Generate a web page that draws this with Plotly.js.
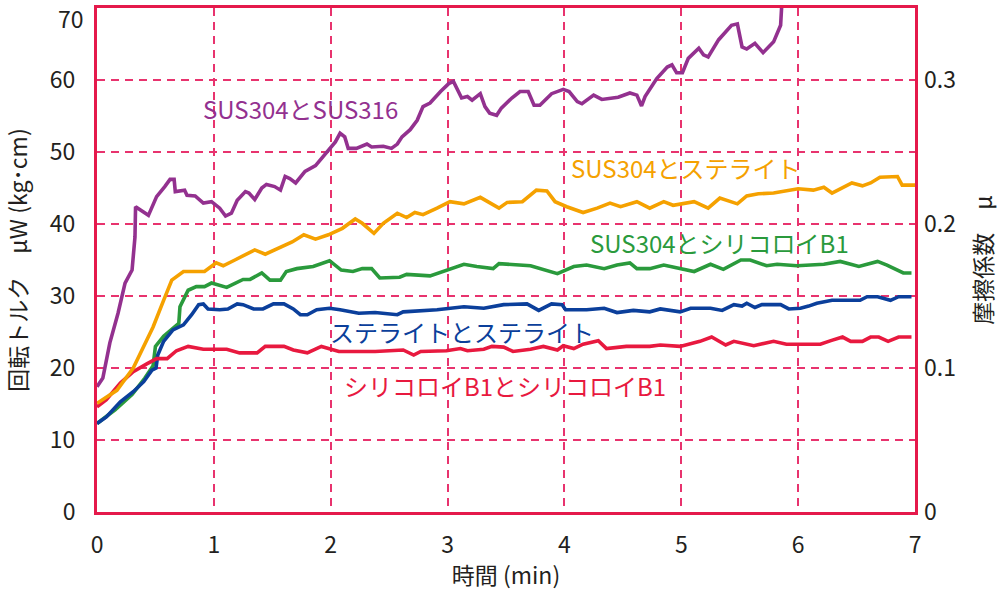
<!DOCTYPE html>
<html>
<head>
<meta charset="utf-8">
<script src="https://cdn.plot.ly/plotly-3.0.1.min.js"></script>
<style>html,body{margin:0;padding:0;background:#fff;}#chart{width:1002px;height:591px;}</style>
</head>
<body>
<div id="chart"></div>
<script>
// time (min) and torque values
const tSUS316 = [0,0.05,0.11,0.18,0.24,0.30,0.325,0.33,0.44,0.51,0.58,0.625,0.66,0.67,0.75,0.77,0.84,0.91,0.98,1.05,1.10,1.15,1.20,1.27,1.30,1.35,1.41,1.45,1.52,1.57,1.61,1.65,1.70,1.78,1.87,1.95,2.04,2.08,2.12,2.15,2.22,2.31,2.35,2.45,2.52,2.57,2.61,2.68,2.74,2.79,2.85,2.94,3.01,3.05,3.12,3.17,3.21,3.28,3.32,3.36,3.42,3.46,3.55,3.62,3.69,3.74,3.79,3.89,3.99,4.04,4.11,4.15,4.25,4.32,4.46,4.56,4.62,4.66,4.69,4.79,4.88,4.92,4.96,5.01,5.06,5.15,5.19,5.23,5.32,5.43,5.48,5.52,5.56,5.63,5.70,5.79,5.82,5.85,5.86];
const vSUS316 = [17.4,18.6,23.5,27.6,31.8,33.6,38.2,42.4,41.2,43.8,45.2,46.2,46.2,44.5,44.7,44.0,43.9,42.9,43.1,42.2,41.1,41.5,43.3,44.5,44.3,43.4,45.0,45.5,45.2,44.7,46.6,46.3,45.7,47.3,48.1,49.6,51.4,52.6,52.1,50.5,50.5,51.1,50.7,50.8,50.5,51.1,52.1,53.1,54.4,56.3,56.8,58.4,59.5,59.8,57.5,57.7,57.2,58.1,56.3,55.4,55.1,56.1,57.5,58.4,58.4,56.5,56.5,58.1,58.7,58.4,57.0,56.7,57.9,57.3,57.6,58.2,57.9,56.4,57.7,60.2,61.8,62.1,61.0,61.0,63.0,64.4,63.5,63.2,65.6,67.6,67.8,64.6,64.3,65.1,63.8,65.3,66.6,67.6,70.5];

const tStellite = [0,0.17,0.31,0.40,0.48,0.57,0.64,0.74,0.92,1.02,1.08,1.18,1.35,1.44,1.58,1.67,1.77,1.87,1.98,2.10,2.21,2.27,2.37,2.45,2.57,2.65,2.72,2.79,2.91,3.02,3.14,3.28,3.44,3.51,3.64,3.76,3.85,3.92,4.02,4.16,4.28,4.39,4.48,4.62,4.73,4.85,4.93,5.11,5.23,5.33,5.48,5.56,5.66,5.79,6.00,6.13,6.22,6.29,6.46,6.55,6.62,6.70,6.85,6.89,7.0];
const vStellite = [15.1,16.9,20.0,23.0,25.7,29.4,32.2,33.4,33.4,34.6,34.2,35.0,36.4,35.8,36.9,37.5,38.5,37.9,38.5,39.4,40.7,40.1,38.7,40.1,41.5,40.9,41.6,41.3,42.2,43.1,42.8,43.7,42.2,43.0,43.1,44.7,44.6,43.1,42.4,41.6,42.2,42.9,42.4,43.1,42.2,43.1,42.6,43.1,42.2,43.6,42.8,43.9,44.2,44.3,44.9,44.7,45.1,44.3,45.7,45.3,45.7,46.5,46.6,45.4,45.4];

const tSiliB1 = [0,0.155,0.30,0.41,0.48,0.50,0.57,0.70,0.71,0.78,0.85,0.92,0.98,1.11,1.25,1.31,1.41,1.48,1.57,1.62,1.71,1.85,1.99,2.09,2.19,2.27,2.35,2.42,2.59,2.65,2.85,3.02,3.14,3.25,3.39,3.44,3.59,3.71,3.94,4.08,4.19,4.34,4.45,4.56,4.62,4.73,4.85,4.99,5.11,5.25,5.36,5.51,5.59,5.73,5.82,5.99,6.22,6.36,6.52,6.68,6.76,6.90,6.97];
const vSiliB1 = [12.3,14.2,16.3,18.6,20.3,23.0,24.4,26.2,28.5,30.8,31.3,31.3,31.8,31.2,32.3,32.3,33.2,32.2,32.2,33.4,33.8,34.1,34.9,33.6,33.4,33.8,33.8,32.5,32.6,33.0,32.8,33.8,34.4,34.1,33.8,34.5,34.4,34.2,33.1,34.1,34.3,33.8,34.3,34.6,33.8,33.8,34.3,33.8,33.4,34.4,33.7,35.0,35.0,34.2,34.4,34.2,34.4,34.8,34.1,34.8,34.3,33.2,33.2];

const tStelStel = [0,0.08,0.20,0.31,0.40,0.47,0.505,0.52,0.57,0.65,0.74,0.81,0.87,0.91,0.95,1.05,1.12,1.20,1.25,1.34,1.42,1.51,1.60,1.68,1.74,1.80,1.88,1.99,2.08,2.24,2.38,2.57,2.62,2.91,3.14,3.31,3.48,3.68,3.78,3.89,3.98,4.01,4.19,4.34,4.45,4.59,4.73,4.82,4.99,5.08,5.25,5.35,5.45,5.52,5.56,5.63,5.69,5.85,5.92,6.02,6.09,6.16,6.29,6.53,6.59,6.68,6.79,6.86,6.97];
const vStelStel = [12.3,13.2,15.3,16.7,18.1,19.7,20.0,21.8,23.7,25.3,26.0,27.4,28.8,28.9,28.2,28.1,28.2,28.9,28.8,28.2,28.2,28.9,28.9,28.2,27.4,27.4,28.1,28.3,28.1,27.6,27.7,27.4,27.8,28.1,28.5,28.3,28.8,28.9,28.0,28.9,28.8,28.1,28.1,28.3,27.7,28.0,27.8,28.2,27.8,28.3,28.3,28.0,28.8,28.6,29.0,28.4,28.8,28.8,28.2,28.3,28.6,29.0,29.4,29.4,29.9,29.9,29.4,29.9,29.9];

const tSiliSili = [0,0.08,0.20,0.31,0.43,0.51,0.60,0.68,0.78,0.91,1.11,1.22,1.37,1.44,1.60,1.68,1.80,1.92,2.07,2.38,2.62,2.71,2.77,2.99,3.11,3.17,3.31,3.38,3.48,3.56,3.71,3.82,3.94,3.99,4.08,4.16,4.29,4.36,4.53,4.73,4.82,4.99,5.16,5.26,5.38,5.45,5.62,5.79,5.90,6.19,6.28,6.38,6.45,6.55,6.62,6.69,6.77,6.86,6.97];
const vSiliSili = [14.6,15.6,17.9,19.5,20.6,21.3,21.3,22.4,23.0,22.6,22.6,22.1,22.1,23.0,23.0,22.5,22.1,23.0,22.3,22.3,22.5,21.8,22.3,22.4,22.7,22.4,22.6,23.0,22.9,22.3,22.6,23.0,22.5,23.1,22.7,23.3,23.8,22.7,23.0,23.0,23.2,23.0,23.7,24.3,23.2,23.7,23.1,23.7,23.3,23.3,23.8,24.3,23.7,23.7,24.3,24.3,23.7,24.3,24.3];

const seriesNames = ['SUS304とSUS316','SUS304とステライト','SUS304とシリコロイB1','ステライトとステライト','シリコロイB1とシリコロイB1'];
const seriesColors = ['#93318f','#f5a100','#2a9a3c','#0b3f9b','#e8193f'];
// label anchor positions (time, torque)
const labelT = [1.74, 5.04, 5.33, 3.12, 3.49];
const labelV = [56.1, 47.8, 37.5, 25.1, 17.6];

const xTicks = [0,1,2,3,4,5,6,7];
const yTicks = [0,10,20,30,40,50,60];
const yTopTick = 70;
const muTicks = [0,0.1,0.2,0.3];
const muTickText = ['0','0.1','0.2','0.3'];

const FONT = '"Noto Sans CJK JP", "Noto Sans", sans-serif';
const TXT = '#231f20';
const FRAME = '#e5194b';
const GRID = '#e8336e';

const ts = [tSUS316, tStellite, tSiliB1, tStelStel, tSiliSili];
const vs = [vSUS316, vStellite, vSiliB1, vStelStel, vSiliSili];
const order = [2, 3, 4, 1, 0];
const traces = order.map(i => ({
  x: ts[i], y: vs[i], type: 'scatter', mode: 'lines', name: seriesNames[i],
  line: {color: seriesColors[i], width: 3.6, shape: 'linear'},
  hoverinfo: 'skip', showlegend: false
}));
// carrier for the right (friction coefficient) axis
traces.push({x: [0], y: [0], yaxis: 'y2', type: 'scatter', mode: 'lines',
  line: {width: 0}, hoverinfo: 'skip', showlegend: false});

const annotations = seriesNames.map((n, i) => ({
  x: labelT[i], y: labelV[i], xref: 'x', yref: 'y', text: n, showarrow: false,
  font: {family: FONT, size: 24, color: seriesColors[i]}, xanchor: 'center', yanchor: 'middle'
}));
// top torque tick label, nudged inside the page so it is not clipped
annotations.push({
  x: 0, y: 1, xref: 'paper', yref: 'paper', text: String(yTopTick), showarrow: false,
  xanchor: 'right', yanchor: 'top', xshift: -12, yshift: 8, borderpad: 0,
  font: {family: FONT, size: 23, color: TXT}
});

const layout = {
  width: 1002, height: 591,
  margin: {l: 97, r: 87, t: 8, b: 79, pad: 0},
  paper_bgcolor: '#ffffff', plot_bgcolor: '#ffffff',
  showlegend: false,
  font: {family: FONT, color: TXT, size: 22},
  xaxis: {
    range: [0, 7], tickvals: xTicks, ticktext: xTicks.map(String),
    showgrid: true, gridcolor: GRID, gridwidth: 2, griddash: '8px,6px',
    zeroline: false, showline: true, linecolor: FRAME, linewidth: 3, mirror: true,
    ticks: '', ticklabelstandoff: 10, ticklabeloverflow: 'allow',
    tickfont: {family: FONT, size: 23, color: TXT},
    title: {text: '時間 (min)', font: {family: FONT, size: 23, color: TXT}, standoff: 14},
    automargin: false, fixedrange: true
  },
  yaxis: {
    range: [0, 70], tickvals: yTicks, ticktext: yTicks.map(String), dtick: 10,
    showgrid: true, gridcolor: GRID, gridwidth: 2, griddash: '8px,6px',
    zeroline: false, showline: true, linecolor: FRAME, linewidth: 3, mirror: true,
    ticks: '', ticklabelstandoff: 14, ticklabeloverflow: 'allow',
    tickfont: {family: FONT, size: 23, color: TXT},
    title: {text: '回転トルク　μW (kg･cm)', font: {family: FONT, size: 23, color: TXT}, standoff: 20},
    automargin: false, fixedrange: true
  },
  yaxis2: {
    overlaying: 'y', side: 'right', range: [0, 0.35],
    tickvals: muTicks, ticktext: muTickText,
    showgrid: false, zeroline: false, showline: false,
    ticks: '', ticklabelstandoff: 8, ticklabeloverflow: 'allow',
    tickfont: {family: FONT, size: 23, color: TXT},
    title: {text: '摩擦係数　μ', font: {family: FONT, size: 23, color: TXT}, standoff: 20},
    automargin: false, fixedrange: true
  },
  annotations: annotations
};

Plotly.newPlot('chart', traces, layout, {displayModeBar: false, staticPlot: true});
</script>
</body>
</html>
